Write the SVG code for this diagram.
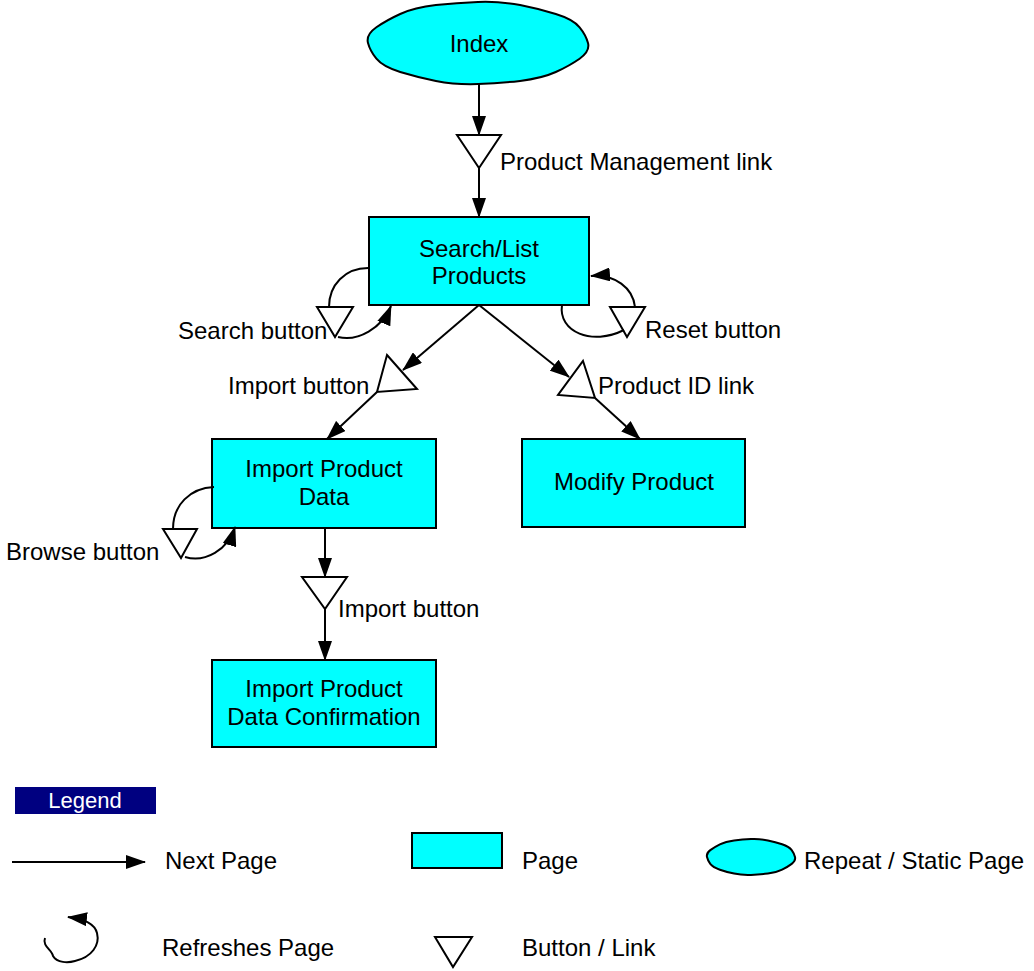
<svg xmlns="http://www.w3.org/2000/svg" width="1034" height="971" viewBox="0 0 1034 971">
  <style>
    text { font-family: "Liberation Sans", Arial, sans-serif; font-size: 24px; fill: #000; }
    .mid { text-anchor: middle; }
    .page { fill: #00ffff; stroke: #000; stroke-width: 2; }
    .btn { fill: #fff; stroke: #000; stroke-width: 2; stroke-linejoin: miter; }
    .flow { fill: none; stroke: #000; stroke-width: 2; }
    .arrow { marker-end: url(#head); }
    .legend-title { fill: #fff; font-size: 22px; }
  </style>
  <defs>
    <marker id="head" markerUnits="userSpaceOnUse" viewBox="0 0 20 14" markerWidth="20" markerHeight="14" refX="19" refY="7" orient="auto">
      <path d="M0,0 L20,7 L0,14 z" fill="#000"/>
    </marker>
  </defs>
  <rect width="1034" height="971" fill="#fff"/>

  <!-- pages and buttons -->
  <g id="index">
    <path class="page" d="M588,43 Q590.2,51.3 579.6,58.7 Q569.4,65.8 555.8,72 Q541.6,78.4 520.1,80.9 Q499.5,83.2 478,84 Q455.7,84.8 435.9,80.9 Q416.8,77.1 400.2,72 Q382.9,66.7 376.4,58.7 Q370.1,51 368,43 Q365.8,34.7 376.4,27.3 Q386.6,20.2 400.2,14 Q414.4,7.6 435.9,5.1 Q456.5,2.8 478,2 Q500.3,1.2 520.1,5.1 Q539.2,8.9 555.8,14 Q573.1,19.3 579.6,27.3 Q585.9,35 588,43 z"/>
    <text class="mid" x="479" y="52">Index</text>
  </g>

  <g id="btn-product-management">
    <polygon class="btn" points="457,135 501,135 479,168"/>
    <text x="500" y="170">Product Management link</text>
  </g>

  <g id="search-list-products">
    <rect class="page" x="369" y="217" width="220" height="88"/>
    <text class="mid" x="479" y="257">Search/List</text>
    <text class="mid" x="479" y="284">Products</text>
  </g>

  <g id="btn-search">
    <polygon class="btn" points="317,307 353,307 335,337"/>
    <text x="178" y="339">Search button</text>
  </g>

  <g id="btn-reset">
    <polygon class="btn" points="610,307 645,307 627,337"/>
    <text x="645" y="338">Reset button</text>
  </g>

  <g id="btn-import">
    <polygon class="btn" points="387,355 417,389 377,392"/>
    <text x="228" y="394">Import button</text>
  </g>

  <g id="btn-product-id">
    <polygon class="btn" points="583,361 595,398 558,395"/>
    <text x="598" y="394">Product ID link</text>
  </g>

  <g id="import-product-data">
    <rect class="page" x="212" y="439" width="224" height="89"/>
    <text class="mid" x="324" y="477">Import Product</text>
    <text class="mid" x="324" y="505">Data</text>
  </g>

  <g id="modify-product">
    <rect class="page" x="522" y="439" width="223" height="88"/>
    <text class="mid" x="634" y="490">Modify Product</text>
  </g>

  <g id="btn-browse">
    <polygon class="btn" points="163,529 197,529 181,558"/>
    <text x="6" y="560">Browse button</text>
  </g>

  <g id="btn-import-confirm">
    <polygon class="btn" points="302,577 347,577 325,609"/>
    <text x="338" y="617">Import button</text>
  </g>

  <g id="import-product-data-confirmation">
    <rect class="page" x="212" y="660" width="224" height="87"/>
    <text class="mid" x="324" y="697">Import Product</text>
    <text class="mid" x="324" y="725">Data Confirmation</text>
  </g>

  <!-- connectors -->
  <g id="connectors">
    <line class="flow arrow" x1="479" y1="84" x2="479" y2="135"/>
    <line class="flow arrow" x1="479" y1="168" x2="479" y2="217"/>

    <path class="flow" d="M368,268 C345,268 329,285 329,307"/>
    <path class="flow arrow" d="M338,337 C358,342 382,328 391,306"/>

    <path class="flow" d="M562,305 C558,332 592,346 624,330"/>
    <path class="flow arrow" d="M635,307 C633,288 615,274 591,276"/>

    <line class="flow arrow" x1="479" y1="305" x2="403" y2="370"/>
    <line class="flow arrow" x1="377" y1="392" x2="327" y2="439"/>

    <line class="flow arrow" x1="479" y1="305" x2="569" y2="377"/>
    <line class="flow arrow" x1="595" y1="398" x2="640" y2="439"/>

    <path class="flow" d="M214,487 C190,488 173,505 173,529"/>
    <path class="flow arrow" d="M185,557 C205,563 228,550 235,527"/>

    <line class="flow arrow" x1="325" y1="528" x2="325" y2="577"/>
    <line class="flow arrow" x1="325" y1="609" x2="325" y2="660"/>
  </g>

  <!-- key -->
  <g id="legend">
    <rect x="15" y="787" width="141" height="27" fill="#000080"/>
    <text class="mid legend-title" x="85" y="808">Legend</text>

    <line class="flow arrow" x1="12" y1="862" x2="145" y2="862"/>
    <text x="165" y="869">Next Page</text>

    <path class="flow arrow" d="M45,938 C42,946 52,950 53,956 C57,963 68,963 75,961 C92,957 100,945 97,933 C95,925 85,919 68,917"/>
    <text x="162" y="956">Refreshes Page</text>

    <rect class="page" x="412" y="833" width="90" height="35"/>
    <text x="522" y="869">Page</text>

    <polygon class="btn" points="435,937 472,937 453,967"/>
    <text x="522" y="956">Button / Link</text>

    <path class="page" d="M795,857 Q795.9,860.7 791.7,863.9 Q787.6,867 782.1,869.7 Q776.4,872.6 767.9,873.6 Q759.6,874.7 751,875 Q742.1,875.4 734.1,873.6 Q726.5,872 719.9,869.7 Q713,867.4 710.3,863.9 Q707.8,860.5 707,857 Q706.1,853.3 710.3,850.1 Q714.4,847 719.9,844.3 Q725.6,841.4 734.1,840.4 Q742.4,839.3 751,839 Q759.9,838.6 767.9,840.4 Q775.5,842 782.1,844.3 Q789,846.6 791.7,850.1 Q794.2,853.5 795,857 z"/>
    <text x="804" y="869">Repeat / Static Page</text>
  </g>
</svg>
